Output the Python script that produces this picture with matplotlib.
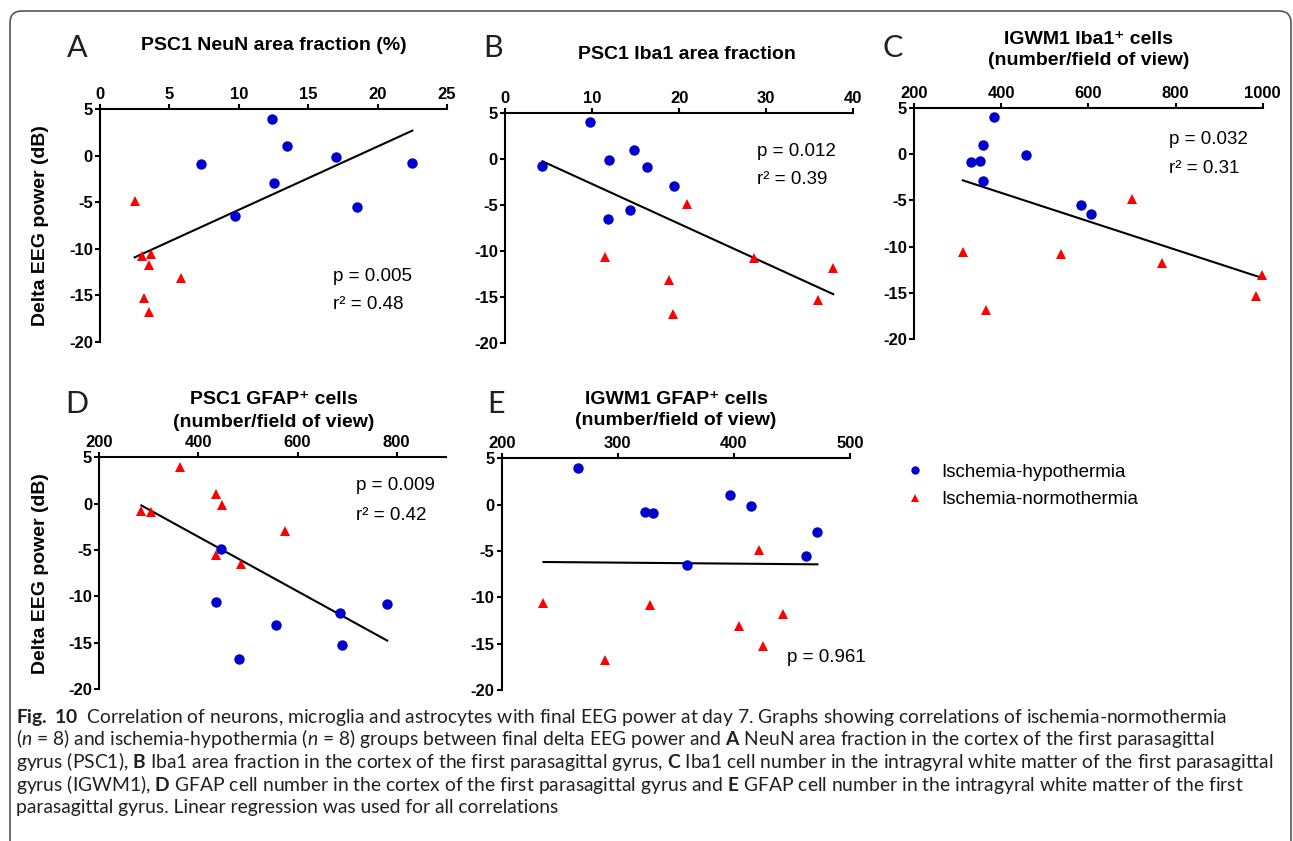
import numpy as np
import matplotlib
matplotlib.use("Agg")
from matplotlib import pyplot as plt
from matplotlib.lines import Line2D
from matplotlib.patches import FancyBboxPatch

plt.rcParams['font.family'] = ['Liberation Sans', 'DejaVu Sans']
plt.rcParams['axes.unicode_minus'] = False
plt.rcParams['mathtext.fontset'] = 'custom'
plt.rcParams['mathtext.rm'] = 'Lato'
plt.rcParams['mathtext.it'] = 'Lato:italic'
plt.rcParams['mathtext.bf'] = 'Lato:bold'

# Delta EEG power (dB) per animal, same order in every panel
eeg_hypo = [4.0, 1.0, -0.1, -0.8, -0.9, -2.9, -5.5, -6.5]
eeg_normo = [-4.9, -10.6, -10.8, -11.8, -13.1, -15.3, -16.8]

# x values per panel
neun_hypo = [12.4, 13.5, 17.0, 22.5, 7.3, 12.5, 18.5, 9.7]
neun_normo = [2.5, 3.7, 3.0, 3.5, 5.8, 3.2, 3.5]

iba1_hypo = [9.8, 14.8, 12.0, 4.3, 16.3, 19.4, 14.3, 11.8]
iba1_normo = [20.9, 11.5, 28.6, 37.7, 18.8, 35.9, 19.3]

igwm_iba1_hypo = [384, 358, 457, 352, 331, 358, 583, 605]
igwm_iba1_normo = [701, 312, 537, 768, 999, 985, 365]

psc_gfap_hypo = [363, 435, 447, 285, 304, 575, 435, 486]
psc_gfap_normo = [445, 436, 781, 686, 557, 690, 481]

igwm_gfap_hypo = [266, 397, 415, 323, 330, 472, 462, 360]
igwm_gfap_normo = [422, 236, 328, 442, 404, 425, 289]

W, H = 1293, 841
BLUE = '#0000CC'
RED = '#FF0000'

fig = plt.figure(figsize=(W / 100, H / 100), dpi=100)

# full-figure axes in pixel units for border, titles and caption
bg = fig.add_axes([0, 0, 1, 1], zorder=-1)
bg.set_xlim(0, W)
bg.set_ylim(H, 0)
bg.axis('off')
bg.add_patch(FancyBboxPatch((10, 11), 1281, 845, boxstyle='round,pad=0,rounding_size=12',
                            fill=False, ec='#555555', lw=1.2))

panels = [
    dict(letter='A', lpos=(67, 57), title=['PSC1 NeuN area fraction (%)'], tpos=(274, [50]),
         box=(100, 109.3, 447, 341.7), xlim=(0, 25), xticks=[0, 5, 10, 15, 20, 25],
         hypo=neun_hypo, normo=neun_normo, swap=False,
         stats=['p = 0.005', 'r² = 0.48'], spos=(333, [281, 309]), ylabel=True),
    dict(letter='B', lpos=(483, 57), title=['PSC1 Iba1 area fraction'], tpos=(687, [59]),
         box=(505, 112.7, 853.3, 343.3), xlim=(0, 40), xticks=[0, 10, 20, 30, 40],
         hypo=iba1_hypo, normo=iba1_normo, swap=False,
         stats=['p = 0.012', 'r² = 0.39'], spos=(757, [156, 184]), ylabel=False),
    dict(letter='C', lpos=(882, 57), title=['IGWM1 Iba1⁺ cells', '(number/field of view)'],
         tpos=(1089, [44, 65]),
         box=(914, 107.7, 1262.7, 339.3), xlim=(200, 1000), xticks=[200, 400, 600, 800, 1000],
         hypo=igwm_iba1_hypo, normo=igwm_iba1_normo, swap=False,
         stats=['p = 0.032', 'r² = 0.31'], spos=(1169, [144, 173]), ylabel=False),
    # in panel D the published figure draws the groups with swapped symbols
    dict(letter='D', lpos=(65, 413), title=['PSC1 GFAP⁺ cells', '(number/field of view)'],
         tpos=(274, [404, 427]),
         box=(99.3, 457.3, 446.2, 689), xlim=(200, 900), xticks=[200, 400, 600, 800],
         hypo=psc_gfap_hypo, normo=psc_gfap_normo, swap=True,
         stats=['p = 0.009', 'r² = 0.42'], spos=(356, [490, 520]), ylabel=True),
    dict(letter='E', lpos=(487, 413), title=['IGWM1 GFAP⁺ cells', '(number/field of view)'],
         tpos=(676, [404, 425]),
         box=(501.7, 458.3, 850, 690), xlim=(200, 500), xticks=[200, 300, 400, 500],
         hypo=igwm_gfap_hypo, normo=igwm_gfap_normo, swap=False,
         stats=['p = 0.961'], spos=(787, [662]), ylabel=False),
]

for p in panels:
    l, t, r, b = p['box']
    ax = fig.add_axes([l / W, 1 - b / H, (r - l) / W, (b - t) / H])
    ax.patch.set_visible(False)

    c_hypo, m_hypo, c_normo, m_normo = BLUE, 'o', RED, '^'
    if p['swap']:
        c_hypo, m_hypo, c_normo, m_normo = RED, '^', BLUE, 'o'
    ax.plot(p['hypo'], eeg_hypo, m_hypo, color=c_hypo, ms=7.5, mew=0, clip_on=False, zorder=3)
    ax.plot(p['normo'], eeg_normo, m_normo, color=c_normo, ms=7.5, mew=0, clip_on=False, zorder=3)

    xs = np.array(p['hypo'] + p['normo'], dtype=float)
    ys = np.array(eeg_hypo + eeg_normo)
    slope, icpt = np.polyfit(xs, ys, 1)
    xl = np.array([xs.min(), xs.max()])
    ax.plot(xl, slope * xl + icpt, color='black', lw=1.5, zorder=2)

    ax.set_xlim(*p['xlim'])
    ax.set_ylim(-20, 5)
    ax.set_xticks(p['xticks'])
    ax.set_yticks([5, 0, -5, -10, -15, -20])
    ax.xaxis.tick_top()
    for s in ['right', 'bottom']:
        ax.spines[s].set_visible(False)
    for s in ['top', 'left']:
        ax.spines[s].set_linewidth(1.5)
    ax.tick_params(direction='out', length=3.6, width=1.5, labelsize=12, pad=1.5)
    for lbl in ax.get_xticklabels() + ax.get_yticklabels():
        lbl.set_fontweight('bold')
    if p['ylabel']:
        ax.set_ylabel('Delta EEG power (dB)', fontsize=14, fontweight='bold', labelpad=14)

    bg.text(p['lpos'][0], p['lpos'][1], p['letter'], fontsize=22, family='Lato',
            ha='left', va='baseline', color='#231f20')
    tx, tys = p['tpos']
    for line, ty in zip(p['title'], tys):
        bg.text(tx, ty, line, fontsize=14, fontweight='bold', ha='center', va='baseline')
    sx, sys_ = p['spos']
    for line, sy in zip(p['stats'], sys_):
        bg.text(sx, sy, line, fontsize=13.5, ha='left', va='baseline')

handles = [Line2D([], [], ls='none', marker='o', color=BLUE, ms=6, mew=0),
           Line2D([], [], ls='none', marker='^', color=RED, ms=6, mew=0)]
fig.legend(handles, ['Ischemia-hypothermia', 'Ischemia-normothermia'],
           loc='upper left', bbox_to_anchor=(905.6 / W, 1 - 463.5 / H), frameon=False,
           fontsize=13.5, handlelength=1.0, handletextpad=0.92, borderpad=0,
           borderaxespad=0, labelspacing=0.55)

caption = [
    r"$\mathbf{Fig.\ 10}$  Correlation of neurons, microglia and astrocytes with final EEG power at day 7. Graphs showing correlations of ischemia-normothermia",
    r"($\mathit{n}$ = 8) and ischemia-hypothermia ($\mathit{n}$ = 8) groups between final delta EEG power and $\mathbf{A}$ NeuN area fraction in the cortex of the first parasagittal",
    r"gyrus (PSC1), $\mathbf{B}$ Iba1 area fraction in the cortex of the first parasagittal gyrus, $\mathbf{C}$ Iba1 cell number in the intragyral white matter of the first parasagittal",
    r"gyrus (IGWM1), $\mathbf{D}$ GFAP cell number in the cortex of the first parasagittal gyrus and $\mathbf{E}$ GFAP cell number in the intragyral white matter of the first",
    "parasagittal gyrus. Linear regression was used for all correlations",
]
for i, line in enumerate(caption):
    bg.text(16, 723 + 22.5 * i, line, fontsize=13.85, family='Lato', color='#231f20',
            ha='left', va='baseline')

fig.savefig('out.png', dpi=100)
